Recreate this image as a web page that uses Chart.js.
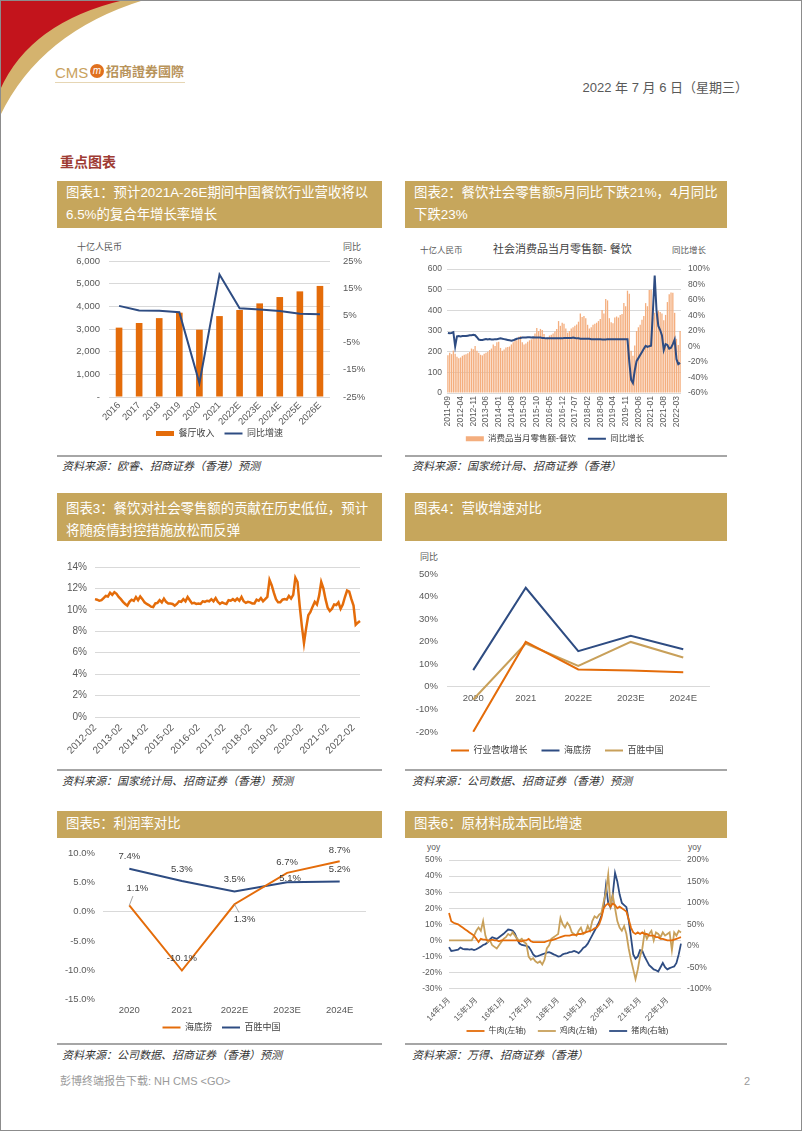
<!DOCTYPE html>
<html>
<head>
<meta charset="utf-8">
<script src="https://cdn.jsdelivr.net/npm/chart.js@4.4.0/dist/chart.umd.min.js"></script>
<style>
  body { margin: 0; background: #fff; }
  #page { position: relative; width: 802px; height: 1131px; overflow: hidden; background: #fff;
    font-family: 'Liberation Sans', 'Noto Sans CJK SC', sans-serif; }
  #frame { position: absolute; left: 0; top: 0; width: 802px; height: 1131px; box-sizing: border-box;
    border: 1px solid #8c8c8c; pointer-events: none; }
  .abs { position: absolute; white-space: nowrap; line-height: 1; }
  .bar { position: absolute; background: #C6A65C; color: #fff; font-size: 13.4px; line-height: 22px;
    padding-left: 9px; box-sizing: border-box; white-space: nowrap; overflow: hidden; }
  .rule { position: absolute; height: 2px; background: #A6A6A6; }
  .src { position: absolute; font-size: 11px; font-style: italic; color: #333; white-space: nowrap; line-height: 1; }
  .unit { position: absolute; font-size: 9px; color: #595959; white-space: nowrap; line-height: 1; }
  canvas { position: absolute; }
</style>
</head>
<body>
<div id="page">
  <svg class="abs" style="left:0;top:0" width="170" height="130">
    <path d="M0,0 H144 Q40,32 0,116 Z" fill="#D4B36E"/>
    <path d="M0,0 H124 Q30,22 0,90 Z" fill="#C3141C"/>
  </svg>

  <div class="abs" style="left:55px;top:65px;font-size:15px;color:#C9A25E;">CMS</div>
  <div class="abs" style="left:90px;top:64px;width:14px;height:14px;border-radius:50%;background:#E0701E;color:#fff;font-size:10px;font-style:italic;text-align:center;line-height:14px;">m</div>
  <div class="abs" style="left:106px;top:65px;font-size:13px;color:#B8935A;font-weight:bold;">招商證券國際</div>
  <div class="abs" style="left:55px;top:82px;width:130px;height:1px;background:#E6D6B4;"></div>

  <div class="abs" style="right:54px;top:81px;font-size:13px;color:#595959;">2022 年 7 月 6 日（星期三）</div>

  <div class="abs" style="left:60px;top:155px;font-size:14px;color:#9E3B33;font-weight:bold;">重点图表</div>

  <!-- row 1 -->
  <div class="bar" style="left:57px;top:181px;width:325px;height:47px;padding-top:1px;">图表1：预计2021A-26E期间中国餐饮行业营收将以<br>6.5%的复合年增长率增长</div>
  <div class="bar" style="left:405px;top:181px;width:322px;height:47px;padding-top:1px;">图表2：餐饮社会零售额5月同比下跌21%，4月同比<br>下跌23%</div>
  <div class="rule" style="left:57px;top:455px;width:325px;"></div>
  <div class="rule" style="left:405px;top:455px;width:322px;"></div>
  <div class="src" style="left:62px;top:461px;">资料来源：欧睿、招商证券（香港）预测</div>
  <div class="src" style="left:412px;top:461px;">资料来源：国家统计局、招商证券（香港）</div>

  <!-- row 2 -->
  <div class="bar" style="left:57px;top:493px;width:325px;height:48px;padding-top:5px;">图表3：餐饮对社会零售额的贡献在历史低位，预计<br>将随疫情封控措施放松而反弹</div>
  <div class="bar" style="left:405px;top:493px;width:322px;height:48px;padding-top:5px;">图表4：营收增速对比</div>
  <div class="rule" style="left:57px;top:769px;width:325px;"></div>
  <div class="rule" style="left:405px;top:769px;width:322px;"></div>
  <div class="src" style="left:62px;top:776px;">资料来源：国家统计局、招商证券（香港）预测</div>
  <div class="src" style="left:412px;top:776px;">资料来源：公司数据、招商证券（香港）预测</div>

  <!-- row 3 -->
  <div class="bar" style="left:57px;top:811px;width:325px;height:27px;padding-top:2px;">图表5：利润率对比</div>
  <div class="bar" style="left:405px;top:811px;width:322px;height:27px;padding-top:2px;">图表6：原材料成本同比增速</div>
  <div class="rule" style="left:57px;top:1043px;width:325px;"></div>
  <div class="rule" style="left:405px;top:1043px;width:322px;"></div>
  <div class="src" style="left:62px;top:1050px;">资料来源：公司数据、招商证券（香港）预测</div>
  <div class="src" style="left:412px;top:1050px;">资料来源：万得、招商证券（香港）</div>

  <div class="abs" style="left:60px;top:1076px;font-size:11px;color:#9a9a9a;">彭博终端报告下载: NH CMS &lt;GO&gt;</div>
  <div class="abs" style="left:744px;top:1076px;font-size:11px;color:#9a9a9a;">2</div>

  <!-- axis units -->
  <div class="unit" style="left:77px;top:243px;">十亿人民币</div>
  <div class="unit" style="left:343px;top:243px;">同比</div>
  <div class="unit" style="left:420px;top:246px;font-size:8.5px;">十亿人民币</div>
  <div class="unit" style="left:493px;top:244px;font-size:11px;color:#404040;">社会消费品当月零售额- 餐饮</div>
  <div class="unit" style="left:672px;top:246px;font-size:8.5px;">同比增长</div>
  <div class="unit" style="left:420px;top:553px;">同比</div>
  <div class="unit" style="left:427px;top:843px;font-size:8.5px;">yoy</div>
  <div class="unit" style="left:688px;top:843px;font-size:8.5px;">yoy</div>

  <canvas id="c1" width="325" height="216" style="left:57px;top:232px;"></canvas>
  <canvas id="c2" width="322" height="221" style="left:405px;top:232px;"></canvas>
  <canvas id="c3" width="325" height="212" style="left:57px;top:545px;"></canvas>
  <canvas id="c4" width="322" height="220" style="left:405px;top:545px;"></canvas>
  <canvas id="c5" width="325" height="202" style="left:57px;top:840px;"></canvas>
  <canvas id="c6" width="322" height="205" style="left:405px;top:840px;"></canvas>

  <div id="frame"></div>
</div>

<script>
// ---- data ----
const c1Years = ['2016', '2017', '2018', '2019', '2020', '2021', '2022E', '2023E', '2024E', '2025E', '2026E'];
const c1Revenue = [3060, 3265, 3480, 3720, 2970, 3570, 3840, 4130, 4410, 4660, 4900];
const c1Growth = [8.5, 6.8, 6.7, 6.2, -19.9, 20.0, 7.6, 7.2, 6.6, 5.6, 5.4];

// 2011-09 .. 2022-05
const c2Sales = [183, 195, 188, 205,
  190, 175, 168, 172, 180, 185, 188, 192, 198, 215, 212, 228,
  205, 195, 185, 182, 190, 195, 200, 208, 215, 235, 228, 245,
  248, 218, 205, 210, 220, 222, 225, 235, 245, 258, 255, 272,
  275, 245, 235, 240, 248, 255, 260, 270, 288, 315, 300, 310,
  305, 285, 262, 268, 278, 282, 288, 298, 310, 348, 325, 340,
  335, 312, 292, 300, 312, 318, 325, 332, 345, 385, 368, 372,
  362, 330, 312, 318, 330, 335, 340, 348, 358, 402, 385, 455,
  448, 362, 342, 338, 365, 370, 365, 378, 382, 435, 420, 495,
  480, 205, 180, 230, 300, 318, 330, 355, 372, 435, 420, 498,
  500, 365, 388, 380, 398, 392, 385, 352, 378, 440, 478, 486,
  485, 388, 262, 232, 300];
const c2Yoy = [17.5, 17, 17.5, 18.5,
  0, 13, 13.5, 13, 13.5, 13.5, 13.5, 14, 14.5, 14.5, 15, 14.5,
  12, 9, 8.5, 8.5, 9, 9.5, 9, 9.5, 9, 9, 9.5, 9.5,
  10, 10.5, 10, 9.5, 9, 8.5, 8, 7.5, 8, 9, 10, 10.5,
  11, 11.5, 11.5, 11.5, 12, 12, 11.5, 12, 11.5, 11.5, 11.5, 11.5,
  11, 11, 10.5, 10.5, 10.5, 10.5, 10.5, 10.5, 10.5, 10.5, 10.5, 10.5,
  11, 11, 11, 11, 11, 11.5, 11, 10.5, 10.5, 10, 10, 10,
  10, 10, 10, 9.5, 9.5, 9.5, 9.5, 9.5, 9.5, 9, 9, 9,
  9.5, 9.5, 9.5, 9.5, 9.5, 9.5, 9.5, 9.5, 9.5, 9.5, 9.5, 9.5,
  -20, -43, -47, -31, -19, -15, -11, -7, -3, 0.8, -0.6, 0.4,
  1, 45, 91.6, 46.4, 26.6, 21.3, 14.3, -4.5, 3.1, 2, -2.7, -1.6,
  3, 8.9, -16.4, -22.7, -21.1];

// 2012-02 .. 2022-05
const c3Share = [11.0, 10.95, 10.85, 10.9, 11.1, 11.3, 11.25, 11.6, 11.4, 11.65, 11.5, 11.2,
  11.0, 10.75, 10.55, 10.4, 10.75, 10.95, 10.85, 11.2, 10.9, 11.25, 11.0, 10.7,
  10.55, 10.45, 10.3, 10.25, 10.6, 10.65, 10.9, 10.7, 11.05, 10.75, 10.6, 10.6,
  10.55, 10.4, 10.55, 10.8, 10.75, 11.0, 10.8, 11.2, 10.9, 10.6, 10.65, 10.55,
  10.6, 10.55, 10.8, 10.75, 10.85, 10.8, 11.0, 10.8, 11.1, 10.75, 10.55, 10.7,
  10.6, 10.55, 10.9, 10.85, 11.0, 10.85, 11.05, 10.85, 11.2, 10.8, 10.65, 10.75,
  10.7, 10.6, 10.6, 10.95, 10.85, 11.1, 10.8, 11.0, 11.2, 12.8, 12.3, 11.6,
  11.0, 10.7, 10.7, 10.95, 11.0, 10.95, 11.3, 11.05, 11.4, 13.0, 12.6, 10.4,
  8.5, 6.9, 8.3, 9.5, 9.8, 10.3, 10.75, 10.5, 11.3, 12.6, 12.0, 11.0,
  10.2, 9.9, 10.1, 10.5, 10.45, 10.7, 10.1, 10.5, 11.2, 11.8, 11.7, 11.0,
  10.4, 8.6, 8.8, 8.95];

const c45Years = ['2020', '2021', '2022E', '2023E', '2024E'];
const c4Industry = [-19.9, 19.9, 7.7, 7.2, 6.5];
const c4Haidilao = [7.4, 43.9, 15.8, 22.6, 16.7];
const c4Yum = [-5.6, 19.2, 9.3, 19.9, 13.0];

const c5Haidilao = [1.1, -10.1, 1.3, 6.7, 8.7];
const c5Yum = [7.4, 5.3, 3.5, 5.1, 5.2];

// 14年1月 .. 22年7月
const c6Beef = [17, 12, 11, 10.5, 10, 9, 8, 7, 6, 5, 4, 3,
  1, -1, 1, 0.5, 0.5, 0, 0, 0.5, 0, 0, -0.5, 0,
  0, 0, 0, 0, 0, 0, 0, -0.5, -0.5, 0, 0, 1,
  -0.5, -1, -1, -1, -1, -1, -1, -0.5, 0, 0, 0.5, 1,
  1.5, 2, 2.5, 3, 3, 3, 3.5, 3.5, 3.5, 4, 4, 4.5,
  5, 5.5, 6, 6.5, 7.5, 8, 10, 14, 20, 22, 23, 21,
  23, 22, 20, 21, 20, 19, 18, 13, 8, 5, 4, 5,
  4, 5, 4, 4, 3, 3, 3, 2, 2, 1, 1, 0.5,
  0, 0, 0, 0.5, 1, 1.5, 2];
const c6Chicken = [0, 0, 0, 0, 0, 0, 0, 0, 0, 0, 0, 3,
  6, 8, 6, 12, 3, -1, 0, -3, -4, -5, -3, -1,
  1, 2, 4, 3, 5, 3, 1, 0, 1, -1, -2, -10,
  -12, -11, -13, -14, -13, -15, -12, -5, -3, 1, 2, 3,
  4, 14, 10, 8, 11, 9, 5, 4, 3, 6, 8, 4,
  5, 9, 6, 12, 15, 14, 16, 17, 24, 30, 41, 22,
  28, 20, 12, 8, 6, 9, 4, -5, -12, -18, -24, -18,
  -10, -5, 5, 1, 4, 6, 0, 5, 4, 2, 5, 3,
  4, 5, -6, 5, 3, 6, 5];
const c6Pork = [-3, -12, -11, -10, -9, -4, -7, -8, -8, -9, -8, -10,
  -8, -5, -2, 2, 4, 8, 15, 20, 18, 16, 20, 24,
  28, 33, 38, 37, 35, 28, 15, 5, 2, 1, 0, -2,
  -10, -20, -25, -24, -22, -20, -18, -16, -15, -17, -20, -22,
  -25, -24, -20, -18, -17, -15, -14, -12, -14, -17, -12, -5,
  -2, 5, 15, 25, 35, 45, 55, 70, 90, 140, 100, 90,
  120, 170, 150, 120, 100, 95, 90, 60, 20, -20, -30, -25,
  -10, -12, -25, -35, -45, -50, -55, -57, -60, -50, -40, -50,
  -55, -52, -50, -48, -40, -20, 5];

function monthRange(y, m, n, fmt) {
  const out = [];
  for (let i = 0; i < n; i++) {
    out.push(fmt(y, m));
    m++;
    if (m > 12) { m = 1; y++; }
  }
  return out;
}
const pad2 = (m) => (m < 10 ? '0' : '') + m;
const c2Labels = monthRange(2011, 9, c2Sales.length, (y, m) => y + '-' + pad2(m));
const c3Labels = monthRange(2012, 2, c3Share.length, (y, m) => y + '-' + pad2(m));
const c6Labels = monthRange(14, 1, c6Beef.length, (y, m) => y + '年' + m + '月');

// ---- styling ----
const ORANGE = '#E46C0A';
const NAVY = '#2E4C82';
const TAN = '#C8A05A';
const GRID = '#D9D9D9';

Chart.defaults.font.family = "'Liberation Sans','Noto Sans CJK SC',sans-serif";
Chart.defaults.color = '#595959';
Chart.defaults.animation = false;
Chart.defaults.events = [];
Chart.defaults.plugins.tooltip.enabled = false;
// axis boxes are pinned to fixed sizes below, so let tick labels spill out of them
Chart.Scale.prototype._computeLabelArea = function () { return undefined; };

const fixW = (w) => (s) => { s.width = w; };
const fixH = (h) => (s) => { s.height = h; };
const noGrid = { display: false, drawTicks: false };

function legend(size, pad) {
  return {
    position: 'bottom',
    labels: {
      usePointStyle: true, pointStyleWidth: 18, boxHeight: 5, padding: pad, color: '#404040',
      font: { size: size }, sort: (a, b) => a.datasetIndex - b.datasetIndex
    }
  };
}
function everyN(n) {
  return function (v, i) { return i % n === 0 ? this.getLabelForValue(v) : ''; };
}
const lineDs = (label, data, color, w, extra) => Object.assign({
  type: 'line', label: label, data: data, borderColor: color, backgroundColor: color,
  borderWidth: w, pointRadius: 0, pointBorderWidth: w, pointStyle: 'line', tension: 0
}, extra || {});

// ---- chart 1 ----
new Chart(document.getElementById('c1'), {
  type: 'bar',
  data: {
    labels: c1Years,
    datasets: [
      { label: '餐厅收入', data: c1Revenue, backgroundColor: ORANGE, pointStyle: 'rect',
        barPercentage: 0.33, categoryPercentage: 1, yAxisID: 'y', order: 1 },
      lineDs('同比增速', c1Growth, NAVY, 2, { yAxisID: 'y1', order: 0 })
    ]
  },
  options: {
    responsive: false,
    layout: { padding: { top: 29, left: 0, right: 0, bottom: 0 } },
    plugins: { legend: legend(9, 10) },
    scales: {
      x: { afterFit: fixH(22), grid: noGrid, border: { display: false },
        ticks: { font: { size: 9.5 }, autoSkip: false, minRotation: 45, maxRotation: 45, padding: 3 } },
      y: { position: 'left', min: 0, max: 6000, afterFit: fixW(52),
        grid: { color: GRID, drawTicks: false }, border: { display: false },
        ticks: { stepSize: 1000, padding: 9, font: { size: 9.5 },
          callback: (v) => v === 0 ? '-' : v.toLocaleString('en-US') } },
      y1: { position: 'right', min: -25, max: 25, afterFit: fixW(52),
        grid: noGrid, border: { display: false },
        ticks: { stepSize: 5, padding: 13, font: { size: 9.5 }, callback: (v) => v + '%' } }
    }
  }
});

// ---- chart 2 ----
new Chart(document.getElementById('c2'), {
  type: 'bar',
  data: {
    labels: c2Labels,
    datasets: [
      { label: '消费品当月零售额-餐饮', data: c2Sales, backgroundColor: '#F4AE7E', pointStyle: 'rect',
        barPercentage: 0.72, categoryPercentage: 1, yAxisID: 'y', order: 1 },
      lineDs('同比增长', c2Yoy, NAVY, 2, { yAxisID: 'y1', order: 0 })
    ]
  },
  options: {
    responsive: false,
    layout: { padding: { top: 37, left: 0, right: 22, bottom: 0 } },
    plugins: { legend: legend(8.5, 12) },
    scales: {
      x: { afterFit: fixH(29.5), grid: noGrid, border: { display: false },
        ticks: { font: { size: 8.5 }, autoSkip: false, minRotation: 90, maxRotation: 90, padding: 3,
          callback: everyN(7) } },
      y: { position: 'left', min: 0, max: 600, afterFit: fixW(42),
        grid: { color: GRID, drawTicks: false }, border: { display: false },
        ticks: { stepSize: 100, padding: 5, font: { size: 8.5 } } },
      y1: { position: 'right', min: -60, max: 100, afterFit: fixW(24),
        grid: noGrid, border: { display: false },
        ticks: { stepSize: 20, padding: 7, font: { size: 8.5 }, callback: (v) => v + '%' } }
    }
  }
});

// ---- chart 3 ----
new Chart(document.getElementById('c3'), {
  type: 'line',
  data: {
    labels: c3Labels,
    datasets: [lineDs('餐饮占比', c3Share, ORANGE, 2.5)]
  },
  options: {
    responsive: false,
    layout: { padding: { top: 22, left: 0, right: 22, bottom: 0 } },
    plugins: { legend: { display: false } },
    scales: {
      x: { afterFit: fixH(40), grid: noGrid, border: { display: false },
        ticks: { font: { size: 10 }, autoSkip: false, minRotation: 45, maxRotation: 45, padding: 5,
          callback: everyN(12) } },
      y: { min: 0, max: 14, afterFit: fixW(38),
        grid: { color: GRID, drawTicks: false }, border: { display: false },
        ticks: { stepSize: 2, padding: 8, font: { size: 10 }, callback: (v) => v + '%' } }
    }
  }
});

// ---- chart 4 ----
new Chart(document.getElementById('c4'), {
  type: 'line',
  data: {
    labels: c45Years,
    datasets: [
      lineDs('行业营收增长', c4Industry, ORANGE, 2),
      lineDs('海底捞', c4Haidilao, NAVY, 2),
      lineDs('百胜中国', c4Yum, TAN, 2)
    ]
  },
  options: {
    responsive: false,
    layout: { padding: { top: 29, left: 0, right: 17.5, bottom: 0 } },
    plugins: { legend: legend(9, 14) },
    scales: {
      x: { position: { y: 0 }, offset: true, grid: noGrid,
        border: { display: true, color: GRID },
        ticks: { font: { size: 9.5 }, padding: 6, maxRotation: 0 } },
      y: { min: -20, max: 50, afterFit: fixW(42),
        grid: noGrid, border: { display: false },
        ticks: { stepSize: 10, padding: 9, font: { size: 9.5 }, callback: (v) => v + '%' } }
    }
  }
});

// ---- chart 5 ----
const pointLabels = {
  id: 'pointLabels',
  afterDatasetsDraw(chart, args, opts) {
    const ctx = chart.ctx;
    ctx.save();
    ctx.font = "9.5px 'Liberation Sans', sans-serif";
    ctx.fillStyle = '#404040';
    ctx.textAlign = 'center';
    ctx.textBaseline = 'middle';
    chart.data.datasets.forEach((ds, di) => {
      chart.getDatasetMeta(di).data.forEach((pt, i) => {
        const o = opts.offsets[di][i];
        const x = pt.x + o[0], y = pt.y + o[1];
        if (o[2]) {
          ctx.strokeStyle = '#8c8c8c';
          ctx.lineWidth = 0.8;
          ctx.beginPath();
          ctx.moveTo(pt.x, pt.y);
          ctx.lineTo(pt.x + o[0] * 0.45, pt.y + o[1] * 0.55);
          ctx.stroke();
        }
        ctx.fillText(ds.data[i].toFixed(1) + '%', x, y);
      });
    });
    ctx.restore();
  }
};
new Chart(document.getElementById('c5'), {
  type: 'line',
  data: {
    labels: c45Years,
    datasets: [
      lineDs('海底捞', c5Haidilao, ORANGE, 2),
      lineDs('百胜中国', c5Yum, NAVY, 2)
    ]
  },
  plugins: [pointLabels],
  options: {
    responsive: false,
    layout: { padding: { top: 13, left: 20, right: 16, bottom: 0 } },
    plugins: {
      legend: legend(9, 10),
      pointLabels: {
        offsets: [
          [[8, -17, 1], [0, -12], [10, 15, 1], [0, -11], [0, -11]],
          [[0, -12], [0, -12], [0, -12], [3, -4], [0, -12]]
        ]
      }
    },
    scales: {
      x: { offset: true, afterFit: fixH(14), grid: noGrid,
        border: { display: false }, ticks: { font: { size: 9.5 }, padding: 6, maxRotation: 0 } },
      y: { min: -15, max: 10, afterFit: fixW(26),
        grid: { color: (c) => c.tick.value === 0 ? GRID : 'rgba(0,0,0,0)', drawTicks: false },
        border: { display: false },
        ticks: { stepSize: 5, padding: 8, font: { size: 9.5 }, callback: (v) => v.toFixed(1) + '%' } }
    }
  }
});

// ---- chart 6 ----
new Chart(document.getElementById('c6'), {
  type: 'line',
  data: {
    labels: c6Labels,
    datasets: [
      lineDs('牛肉(左轴)', c6Beef, ORANGE, 1.8, { yAxisID: 'y' }),
      lineDs('鸡肉(左轴)', c6Chicken, TAN, 1.8, { yAxisID: 'y' }),
      lineDs('猪肉(右轴)', c6Pork, NAVY, 1.8, { yAxisID: 'y1' })
    ]
  },
  options: {
    responsive: false,
    layout: { padding: { top: 20, left: 3, right: 0, bottom: 0 } },
    plugins: { legend: legend(8, 12) },
    scales: {
      x: { afterFit: fixH(26.3), grid: noGrid, border: { display: false },
        ticks: { font: { size: 8 }, autoSkip: false, minRotation: 45, maxRotation: 45, padding: 7,
          callback: everyN(12) } },
      y: { position: 'left', min: -30, max: 50, afterFit: fixW(41),
        grid: { color: GRID, drawTicks: false }, border: { display: false },
        ticks: { stepSize: 10, padding: 7, font: { size: 8.5 }, callback: (v) => v + '%' } },
      y1: { position: 'right', min: -100, max: 200, afterFit: fixW(46),
        grid: noGrid, border: { display: false },
        ticks: { stepSize: 50, padding: 6, font: { size: 8.5 }, callback: (v) => v + '%' } }
    }
  }
});
</script>
</body>
</html>
